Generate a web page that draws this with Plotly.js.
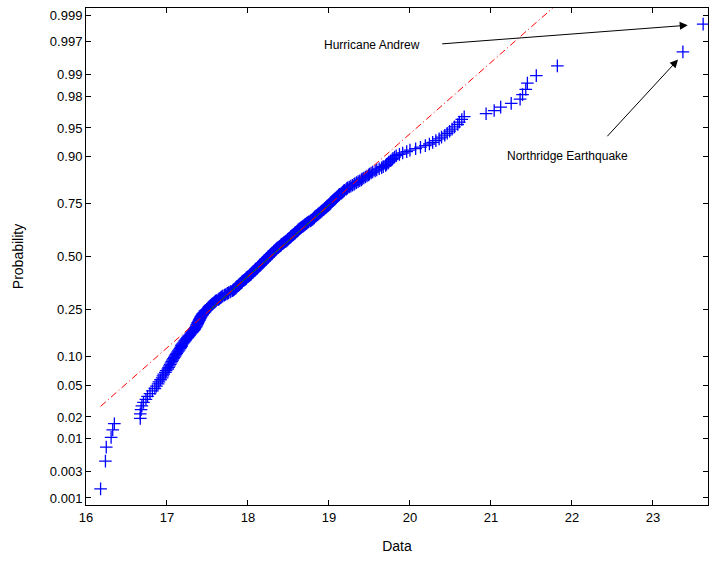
<!DOCTYPE html>
<html><head><meta charset="utf-8">
<script src="https://cdn.plot.ly/plotly-3.0.1.min.js"></script>
<style>body{margin:0;background:#fff}</style>
</head><body><div id="chart" style="width:709px;height:561px"></div>
<script>
// Sorted sample values, n = 340
const sortedData = [
16.18,16.24,16.25,16.31,16.33,16.35,16.67,16.67,16.68,16.69,
16.71,16.74,16.76,16.79,16.82,16.85,16.87,16.89,16.90,16.92,
16.94,16.95,16.96,16.98,16.99,17.01,17.02,17.03,17.04,17.05,
17.06,17.07,17.08,17.09,17.10,17.11,17.12,17.13,17.14,17.15,
17.16,17.17,17.18,17.18,17.19,17.20,17.21,17.22,17.23,17.24,
17.25,17.26,17.27,17.28,17.29,17.30,17.31,17.32,17.33,17.34,
17.34,17.35,17.36,17.36,17.37,17.37,17.38,17.38,17.39,17.39,
17.40,17.40,17.41,17.41,17.42,17.42,17.43,17.44,17.44,17.45,
17.46,17.47,17.47,17.48,17.49,17.50,17.51,17.52,17.52,17.53,
17.54,17.55,17.56,17.57,17.58,17.59,17.60,17.61,17.63,17.64,
17.65,17.66,17.67,17.68,17.69,17.71,17.72,17.74,17.75,17.76,
17.78,17.79,17.81,17.82,17.83,17.84,17.85,17.85,17.86,17.87,
17.88,17.89,17.89,17.90,17.91,17.92,17.93,17.93,17.94,17.95,
17.96,17.97,17.98,17.98,17.99,18.00,18.01,18.02,18.03,18.04,
18.04,18.05,18.06,18.06,18.07,18.08,18.09,18.09,18.10,18.11,
18.12,18.12,18.13,18.14,18.15,18.15,18.16,18.17,18.17,18.18,
18.19,18.20,18.20,18.21,18.22,18.22,18.23,18.24,18.25,18.25,
18.26,18.27,18.27,18.28,18.29,18.30,18.30,18.31,18.32,18.32,
18.33,18.34,18.35,18.35,18.36,18.37,18.38,18.39,18.40,18.41,
18.41,18.42,18.43,18.44,18.45,18.46,18.47,18.48,18.49,18.49,
18.50,18.51,18.52,18.53,18.53,18.54,18.55,18.56,18.57,18.58,
18.58,18.59,18.60,18.61,18.62,18.62,18.63,18.64,18.65,18.66,
18.67,18.68,18.69,18.70,18.71,18.72,18.73,18.74,18.75,18.77,
18.78,18.79,18.80,18.81,18.82,18.82,18.83,18.84,18.85,18.86,
18.87,18.88,18.89,18.90,18.91,18.92,18.93,18.94,18.95,18.96,
18.97,18.98,18.99,19.00,19.01,19.02,19.02,19.03,19.04,19.05,
19.06,19.07,19.08,19.09,19.10,19.11,19.12,19.13,19.15,19.16,
19.17,19.18,19.19,19.21,19.22,19.23,19.25,19.27,19.29,19.31,
19.32,19.34,19.36,19.38,19.40,19.41,19.43,19.45,19.47,19.49,
19.50,19.52,19.54,19.57,19.59,19.62,19.65,19.67,19.70,19.71,
19.73,19.74,19.76,19.78,19.79,19.81,19.83,19.87,19.91,19.96,
20.00,20.07,20.13,20.19,20.24,20.28,20.32,20.36,20.39,20.43,
20.46,20.49,20.52,20.55,20.59,20.61,20.64,20.67,20.94,21.04,
21.12,21.25,21.36,21.39,21.43,21.45,21.56,21.82,23.37,23.62
];
const probTicks  = [0.001,0.003,0.01,0.02,0.05,0.10,0.25,0.50,0.75,0.90,0.95,0.98,0.99,0.997,0.999];
const probLabels = ['0.001','0.003','0.01','0.02','0.05','0.10','0.25','0.50','0.75','0.90','0.95','0.98','0.99','0.997','0.999'];
const xTicks = [16,17,18,19,20,21,22,23];
// reference line: mean and spread
const refMean = 18.28, refStd = 1.095;

// inverse standard normal CDF (probability-scale transform)
function norminv(p){
  const a=[-39.69683028665376,220.9460984245205,-275.9285104469687,138.3577518672690,-30.66479806614716,2.506628277459239];
  const b=[-54.47609879822406,161.5858368580409,-155.6989798598866,66.80131188771972,-13.28068155288572];
  const c=[-0.007784894002430293,-0.3223964580411365,-2.400758277161838,-2.549732539343734,4.374664141464968,2.938163982698783];
  const d=[0.007784695709041462,0.3224671290700398,2.445134137142996,3.754408661907416];
  const pl=0.02425;let q,r;
  if(p<pl){q=Math.sqrt(-2*Math.log(p));return (((((c[0]*q+c[1])*q+c[2])*q+c[3])*q+c[4])*q+c[5])/((((d[0]*q+d[1])*q+d[2])*q+d[3])*q+1);}
  if(p>1-pl){q=Math.sqrt(-2*Math.log(1-p));return -(((((c[0]*q+c[1])*q+c[2])*q+c[3])*q+c[4])*q+c[5])/((((d[0]*q+d[1])*q+d[2])*q+d[3])*q+1);}
  q=p-0.5;r=q*q;return (((((a[0]*r+a[1])*r+a[2])*r+a[3])*r+a[4])*r+a[5])*q/(((((b[0]*r+b[1])*r+b[2])*r+b[3])*r+b[4])*r+1);
}

const n = sortedData.length;
const zData = sortedData.map((v,i)=>norminv((i+0.5)/n));
const xmin = sortedData[0], xmax = sortedData[n-1];
const q = norminv(0.75);
const font = {family:'Liberation Sans, Arial, sans-serif', size:13, color:'#000'};

const traces = [
  {x:sortedData, y:zData, mode:'markers', type:'scatter',
   marker:{symbol:'cross-thin', size:9, line:{color:'#0000ff', width:1.3}, color:'#0000ff'}, hoverinfo:'skip'},
  {x:[refMean-q*refStd, refMean+q*refStd], y:[-q, q], mode:'lines', type:'scatter',
   line:{color:'#008000', width:1}},
  {x:[xmin, xmax], y:[(xmin-refMean)/refStd, (xmax-refMean)/refStd], mode:'lines', type:'scatter',
   line:{color:'#ff0000', width:1, dash:'7px,3px,1px,3px'}}
];

const yLo = norminv(0.25/n), yHi = norminv(1-0.25/n);
function zp(p){return norminv(p);}

const layout = {
  width:709, height:561, showlegend:false,
  paper_bgcolor:'#fff', plot_bgcolor:'#fff',
  margin:{l:86, r:1, t:8, b:56},
  font:font,
  xaxis:{range:[16,23.68], tickvals:xTicks, ticktext:xTicks.map(String), ticks:'inside', ticklen:5,
         showline:true, mirror:'ticks', linecolor:'#000', linewidth:1, tickcolor:'#000',
         showgrid:false, zeroline:false, tickfont:font,
         title:{text:'Data', font:{family:font.family, size:14, color:'#000'}, standoff:17}},
  yaxis:{range:[yLo,yHi], tickvals:probTicks.map(zp), ticktext:probLabels, ticks:'inside', ticklen:5,
         showline:true, mirror:'ticks', linecolor:'#000', linewidth:1, tickcolor:'#000',
         showgrid:false, zeroline:false, tickfont:font,
         title:{text:'Probability', font:{family:font.family, size:14, color:'#000'}, standoff:22}},
  annotations:[
    {x:19.53, y:2.71, xref:'x', yref:'y', text:'Hurricane Andrew', showarrow:false,
     font:{family:font.family, size:12, color:'#000'}},
    {x:23.43, y:2.96, xref:'x', yref:'y', ax:20.38, ay:2.72, axref:'x', ayref:'y', text:'',
     showarrow:true, arrowhead:2, arrowsize:1.6, arrowwidth:1, arrowcolor:'#000', standoff:0, startstandoff:0},
    {x:21.95, y:1.29, xref:'x', yref:'y', text:'Northridge Earthquake', showarrow:false,
     font:{family:font.family, size:12, color:'#000'}},
    {x:23.31, y:2.52, xref:'x', yref:'y', ax:22.42, ay:1.52, axref:'x', ayref:'y', text:'',
     showarrow:true, arrowhead:2, arrowsize:1.6, arrowwidth:1, arrowcolor:'#000', standoff:0, startstandoff:0}
  ]
};
Plotly.newPlot('chart', traces, layout, {displayModeBar:false, staticPlot:true});
</script>
</body></html>
